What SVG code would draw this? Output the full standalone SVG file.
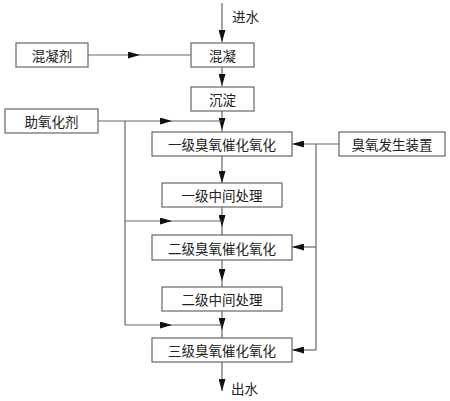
<svg xmlns="http://www.w3.org/2000/svg" width="450" height="401" viewBox="0 0 450 401">
<style>
.box{fill:#fff;stroke:#666;stroke-width:1.2}
.t{font-family:"Noto Sans CJK SC","Noto Sans CJK JP",sans-serif;font-size:13.5px;fill:#222;text-anchor:middle;dominant-baseline:central}
.lbl{font-family:"Noto Sans CJK SC","Noto Sans CJK JP",sans-serif;font-size:13.5px;fill:#222;dominant-baseline:central}
.c{fill:none;stroke:#666;stroke-width:1.2}
</style>
<defs>
<marker id="ah" markerUnits="userSpaceOnUse" viewBox="0 0 12 7" refX="12" refY="3.5" markerWidth="12" markerHeight="7" orient="auto">
<path d="M0,0 L12,3.5 L0,7 z" fill="#111"/>
</marker>
</defs>
<g id="connectors">
<path class="c" d="M222,3 V42" marker-end="url(#ah)"/>
<path class="c" d="M88,55 H140" marker-end="url(#ah)"/>
<path class="c" d="M140,55 H191"/>
<path class="c" d="M222,67 V86" marker-end="url(#ah)"/>
<path class="c" d="M222,111 V130" marker-end="url(#ah)"/>
<path class="c" d="M222,130 V132"/>
<path class="c" d="M98,121 H172" marker-end="url(#ah)"/>
<path class="c" d="M172,121 H222"/>
<path class="c" d="M125,121 V325"/>
<path class="c" d="M339,144 H292" marker-end="url(#ah)"/>
<path class="c" d="M316,144 V350"/>
<path class="c" d="M222,156 V183" marker-end="url(#ah)"/>
<path class="c" d="M222,207 V227" marker-end="url(#ah)"/>
<path class="c" d="M222,227 V235"/>
<path class="c" d="M125,221 H172" marker-end="url(#ah)"/>
<path class="c" d="M172,221 H222"/>
<path class="c" d="M316,247 H292" marker-end="url(#ah)"/>
<path class="c" d="M222,260 V281" marker-end="url(#ah)"/>
<path class="c" d="M222,281 V287"/>
<path class="c" d="M222,311 V330" marker-end="url(#ah)"/>
<path class="c" d="M222,330 V338"/>
<path class="c" d="M125,325 H172" marker-end="url(#ah)"/>
<path class="c" d="M172,325 H222"/>
<path class="c" d="M316,350 H292" marker-end="url(#ah)"/>
<path class="c" d="M222,362 V391" marker-end="url(#ah)"/>
</g>
<g id="in-label"><text class="lbl" x="232" y="16">进水</text></g>
<g id="out-label"><text class="lbl" x="231" y="388">出水</text></g>
<g id="coagulant"><rect class="box" x="16" y="43" width="72" height="24"/><text class="t" x="52" y="55">混凝剂</text></g>
<g id="coagulation"><rect class="box" x="191" y="43" width="63" height="24"/><text class="t" x="222.5" y="55">混凝</text></g>
<g id="sedimentation"><rect class="box" x="191" y="87" width="63" height="24"/><text class="t" x="222.5" y="99">沉淀</text></g>
<g id="oxidant-aid"><rect class="box" x="5" y="109" width="93" height="24"/><text class="t" x="51.5" y="121">助氧化剂</text></g>
<g id="stage1"><rect class="box" x="152" y="132" width="140" height="24"/><text class="t" x="222" y="144">一级臭氧催化氧化</text></g>
<g id="ozone-gen"><rect class="box" x="339" y="132" width="106" height="24"/><text class="t" x="392" y="144">臭氧发生装置</text></g>
<g id="mid1"><rect class="box" x="162" y="183" width="120" height="24"/><text class="t" x="222" y="195">一级中间处理</text></g>
<g id="stage2"><rect class="box" x="152" y="235" width="140" height="25"/><text class="t" x="222" y="247.5">二级臭氧催化氧化</text></g>
<g id="mid2"><rect class="box" x="162" y="287" width="120" height="24"/><text class="t" x="222" y="299">二级中间处理</text></g>
<g id="stage3"><rect class="box" x="152" y="338" width="140" height="24"/><text class="t" x="222" y="350">三级臭氧催化氧化</text></g>
</svg>
